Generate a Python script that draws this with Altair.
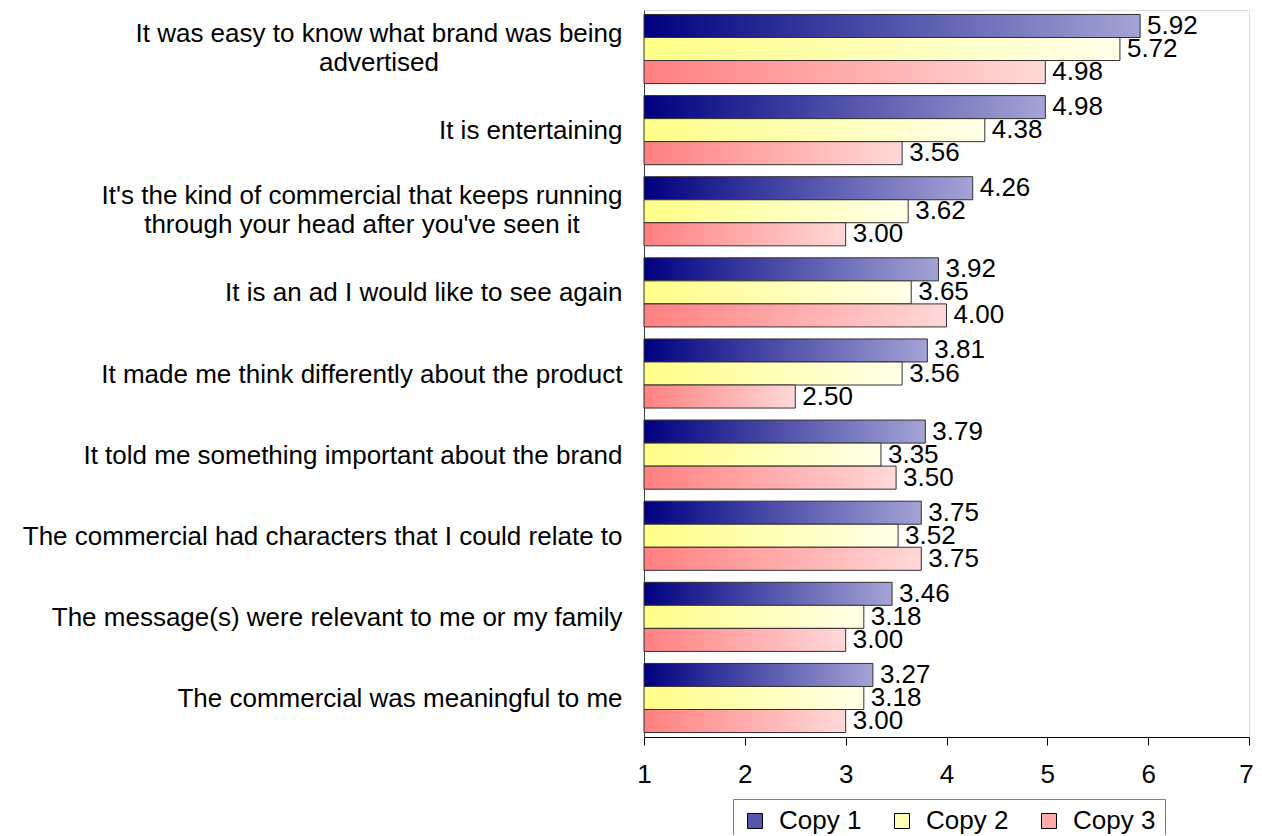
import altair as alt
import pandas as pd

categories = [
    "It was easy to know what brand was being|advertised",
    "It is entertaining",
    "It's the kind of commercial that keeps running|through your head after you've seen it",
    "It is an ad I would like to see again",
    "It made me think differently about the product",
    "It told me something important about the brand",
    "The commercial had characters that I could relate to",
    "The message(s) were relevant to me or my family",
    "The commercial was meaningful to me",
]
series = ["Copy 1", "Copy 2", "Copy 3"]
copy1 = [5.92, 4.98, 4.26, 3.92, 3.81, 3.79, 3.75, 3.46, 3.27]
copy2 = [5.72, 4.38, 3.62, 3.65, 3.56, 3.35, 3.52, 3.18, 3.18]
copy3 = [4.98, 3.56, 3.00, 4.00, 2.50, 3.50, 3.75, 3.00, 3.00]
x_ticks = [1, 2, 3, 4, 5, 6, 7]

gradient_stops = {
    "Copy 1": ("#000080", "#a4a4d6"),
    "Copy 2": ("#ffff88", "#ffffe8"),
    "Copy 3": ("#ff8080", "#ffd8d8"),
}
legend_colors = ["#5656aa", "#ffffb8", "#ffaaaa"]

rows = []
for s, vals in zip(series, [copy1, copy2, copy3]):
    for c, v in zip(categories, vals):
        rows.append({"category": c, "series": s, "value": v})
df = pd.DataFrame(rows)

FONT = "Liberation Sans"
FS = 26

# multi-line labels: centred block (as in the original), first line ends at the usual padding
label1_test = "indexof(datum.label, 'It was easy') == 0"
label3_test = "indexof(datum.label, 'kind of commercial') >= 0"
multi_test = "indexof(datum.label, '|') >= 0"

y_enc = alt.Y(
    "category:N",
    sort=categories,
    scale=alt.Scale(paddingInner=0.148, paddingOuter=0.055),
    axis=alt.Axis(
        title=None,
        labelExpr="split(datum.label, '|')",
        labelFont=FONT,
        labelFontSize=FS,
        labelColor="black",
        labelAlign={"condition": {"test": multi_test, "value": "center"}, "value": "right"},
        labelPadding={
            "condition": [
                {"test": label1_test, "value": 265.5},
                {"test": label3_test, "value": 282.5},
            ],
            "value": 22,
        },
        labelOffset={"condition": {"test": multi_test, "value": -15}, "value": 1},
        labelLimit=0,
        labelLineHeight=29,
        ticks=False,
        domainColor="#404040",
        domainWidth=1,
        grid=False,
    ),
)
yoff_enc = alt.YOffset(
    "series:N", sort=series, scale=alt.Scale(domain=series, paddingInner=0, paddingOuter=0)
)
x_enc = alt.X(
    "value:Q",
    scale=alt.Scale(domain=[1, 7], nice=False, zero=False),
    axis=alt.Axis(
        title=None,
        values=x_ticks,
        format="d",
        labelFont=FONT,
        labelFontSize=FS,
        labelColor="black",
        labelPadding=16,
        labelFlush=False,
        labelOffset={"condition": {"test": "datum.value == 7", "value": -3}, "value": 0},
        tickSize=8,
        tickColor="black",
        domainColor="black",
        grid=False,
    ),
)

base = alt.Chart(df)

layers = []
for s in series:
    c0, c1 = gradient_stops[s]
    grad = alt.Gradient(
        gradient="linear",
        stops=[alt.GradientStop(color=c0, offset=0), alt.GradientStop(color=c1, offset=1)],
        x1=0, x2=1, y1=0, y2=0,
    )
    layers.append(
        base.transform_filter(alt.datum.series == s)
        .mark_bar(fill=grad, stroke="#303030", strokeWidth=1)
        .encode(y=y_enc, yOffset=yoff_enc, x=x_enc, x2=alt.datum(1))
    )

text = base.mark_text(
    align="left", baseline="middle", dx=7, font=FONT, fontSize=FS, color="black"
).encode(y=y_enc, yOffset=yoff_enc, x=x_enc, text=alt.Text("value:Q", format=".2f"))

legend_layer = base.mark_square(opacity=0).encode(
    y=y_enc,
    yOffset=yoff_enc,
    x=x_enc,
    color=alt.Color(
        "series:N",
        scale=alt.Scale(domain=series, range=legend_colors),
        legend=alt.Legend(
            title=None,
            orient="none",
            legendX=89,
            legendY=789,
            direction="horizontal",
            symbolType="square",
            symbolSize=225,
            symbolStrokeColor="black",
            symbolStrokeWidth=1,
            symbolOpacity=1,
            labelFont=FONT,
            labelFontSize=FS,
            labelColor="black",
            labelOffset=11,
            columnPadding=27,
            padding=9,
            strokeColor="#808080",
            fillColor="white",
        ),
    ),
)

chart = (
    alt.layer(*layers, text, legend_layer)
    .properties(
        width=605,
        height=727,
        padding={"left": 636, "top": 2, "right": 5, "bottom": 98},
        autosize=alt.AutoSizeParams(type="none"),
    )
    .configure_view(stroke="#808080", strokeWidth=1)
    .configure(background="white")
)

chart.save("out.html", embed_options={"renderer": "svg", "actions": False})
